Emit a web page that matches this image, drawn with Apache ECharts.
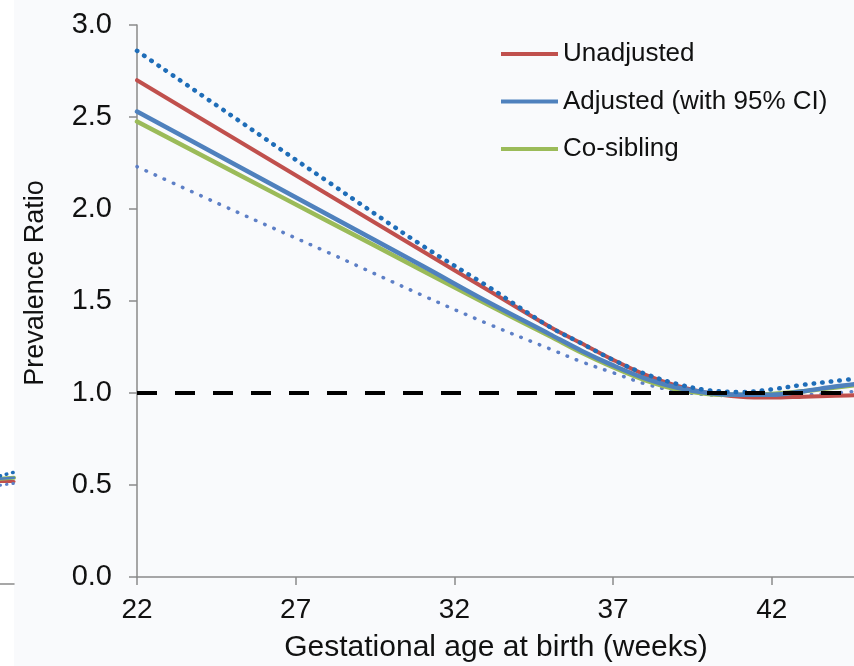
<!DOCTYPE html>
<html>
<head>
<meta charset="utf-8">
<script src="https://cdn.jsdelivr.net/npm/echarts@6/dist/echarts.min.js"></script>
<style>
  html, body { margin: 0; padding: 0; background: #f9fafc; }
  #chart { width: 854px; height: 666px; }
</style>
</head>
<body>
<div id="chart"></div>
<script>
// Gestational age (weeks) at which the curves are sampled
const weeks = [22, 25, 28, 31, 33, 35, 36, 37, 38, 39, 40, 41, 42, 43, 44, 45];

// Prevalence ratio curves
const unadjusted = [2.70, 2.39, 2.08, 1.77, 1.565, 1.36, 1.27, 1.18, 1.10, 1.04, 1.00, 0.98, 0.975, 0.98, 0.985, 0.99];
const adjusted   = [2.53, 2.25, 1.97, 1.69, 1.50, 1.32, 1.23, 1.15, 1.08, 1.03, 1.00, 0.99, 0.99, 1.01, 1.035, 1.055];
const coSibling  = [2.475, 2.205, 1.935, 1.665, 1.485, 1.31, 1.22, 1.14, 1.07, 1.02, 0.995, 0.99, 0.995, 1.01, 1.03, 1.05];
const ciUpper    = [2.86, 2.505, 2.15, 1.80, 1.585, 1.36, 1.27, 1.18, 1.105, 1.05, 1.015, 1.005, 1.02, 1.045, 1.065, 1.085];
const ciLower    = [2.23, 1.995, 1.765, 1.53, 1.38, 1.24, 1.17, 1.11, 1.05, 1.01, 0.99, 0.985, 0.985, 0.99, 1.0, 1.015];

// Reference line (ratio = 1)
const refWeeks = [22, 45];
const refValue = [1, 1];

// Right end of the neighbouring panel, visible at the left border
const sideX        = [0, 1];
const sideUnadj    = [0.55, 0.55];
const sideAdj      = [0.565, 0.57];
const sideCoSib    = [0.565, 0.57];
const sideUpper    = [0.58, 0.60];
const sideLower    = [0.53, 0.54];

const xTicks = { min: 22, max: 45, interval: 5 };
const yTicks = { min: 0, max: 3, interval: 0.5 };
const sideRange = { min: -0.44, max: 3.134 };

const FONT = "'Liberation Sans', Arial, sans-serif";
const RED = '#c0504d', BLUE = '#4f81bd', GREEN = '#9bbb59';
const CI_UP = '#1f6db8', CI_LO = '#5d7fc6';
const AXIS = '#8a8a8a';

const pairs = (xs, ys) => xs.map((x, i) => [x, ys[i]]);

function line(name, xs, ys, color, width, extra) {
  return Object.assign({
    name: name,
    type: 'line',
    data: pairs(xs, ys),
    showSymbol: false,
    smooth: 0.35,
    silent: true,
    xAxisIndex: 0,
    yAxisIndex: 0,
    lineStyle: { color: color, width: width, cap: 'round' },
    itemStyle: { color: color },
    z: 2
  }, extra || {});
}

function sideLine(xs, ys, color, width, type) {
  return {
    type: 'line',
    data: pairs(xs, ys),
    showSymbol: false,
    silent: true,
    xAxisIndex: 1,
    yAxisIndex: 1,
    lineStyle: { color: color, width: width, type: type || 'solid', cap: 'round' },
    z: 2
  };
}

const chart = echarts.init(document.getElementById('chart'), null, { renderer: 'canvas' });

chart.setOption({
  backgroundColor: '#f9fafc',
  animation: false,
  textStyle: { fontFamily: FONT },
  legend: {
    data: ['Unadjusted', 'Adjusted (with 95% CI)', 'Co-sibling'],
    orient: 'vertical',
    left: 496,
    top: 35,
    icon: 'rect',
    itemWidth: 57,
    itemHeight: 4,
    itemGap: 19.5,
    selectedMode: false,
    textStyle: { fontFamily: FONT, fontSize: 26, color: '#111', lineHeight: 28 }
  },
  grid: [
    { left: 137, right: -13, top: 25, bottom: 89, outerBoundsMode: 'none', containLabel: false },
    { left: 0, width: 14, top: 0, bottom: 0, show: true, backgroundColor: '#ffffff', borderWidth: 0,
      outerBoundsMode: 'none', containLabel: false }
  ],
  xAxis: [
    {
      type: 'value',
      gridIndex: 0,
      min: xTicks.min,
      max: xTicks.max,
      interval: xTicks.interval,
      name: 'Gestational age at birth (weeks)',
      nameLocation: 'middle',
      nameGap: 56,
      nameTextStyle: { fontFamily: FONT, fontSize: 30, color: '#111', padding: [0, 12, 0, 0] },
      axisLine: { show: true, lineStyle: { color: AXIS, width: 1.5 } },
      axisTick: { show: true, inside: false, length: 8, lineStyle: { color: AXIS, width: 1.5 } },
      axisLabel: { fontFamily: FONT, fontSize: 28, color: '#111', margin: 19, showMaxLabel: false },
      splitLine: { show: false }
    },
    {
      type: 'value',
      gridIndex: 1,
      min: 0,
      max: 1,
      axisLine: { show: true, onZero: true, lineStyle: { color: AXIS, width: 1.5 } },
      axisTick: { show: false },
      axisLabel: { show: false },
      splitLine: { show: false }
    }
  ],
  yAxis: [
    {
      type: 'value',
      gridIndex: 0,
      min: yTicks.min,
      max: yTicks.max,
      interval: yTicks.interval,
      name: 'Prevalence Ratio',
      nameLocation: 'middle',
      nameGap: 88,
      nameRotate: 90,
      nameTextStyle: { fontFamily: FONT, fontSize: 27, color: '#111', padding: [0, 0, 0, 36] },
      axisLine: { show: true, lineStyle: { color: AXIS, width: 1.5 } },
      axisTick: { show: true, inside: false, length: 8, lineStyle: { color: AXIS, width: 1.5 } },
      axisLabel: { fontFamily: FONT, fontSize: 29, color: '#111', margin: 25,
                   formatter: v => v.toFixed(1) },
      splitLine: { show: false }
    },
    {
      type: 'value',
      gridIndex: 1,
      min: sideRange.min,
      max: sideRange.max,
      axisLine: { show: false },
      axisTick: { show: false },
      axisLabel: { show: false },
      splitLine: { show: false }
    }
  ],
  series: [
    line('CI lower', weeks, ciLower, CI_LO, 3.5,
         { lineStyle: { color: CI_LO, width: 3.5, type: [0.5, 9.5], cap: 'round' }, z: 1 }),
    line('Unadjusted', weeks, unadjusted, RED, 4),
    line('Co-sibling', weeks, coSibling, GREEN, 4.5),
    line('Adjusted (with 95% CI)', weeks, adjusted, BLUE, 4.5),
    line('CI upper', weeks, ciUpper, CI_UP, 4.5,
         { lineStyle: { color: CI_UP, width: 4.5, type: [0.5, 8.2], cap: 'round' }, z: 3 }),
    line('Reference', refWeeks, refValue, '#000', 4,
         { smooth: false, lineStyle: { color: '#000', width: 4, type: [20, 18], cap: 'butt' }, z: 4 }),
    sideLine(sideX, sideUnadj, RED, 3),
    sideLine(sideX, sideCoSib, GREEN, 4),
    sideLine(sideX, sideAdj, BLUE, 2.5),
    sideLine(sideX, sideLower, CI_LO, 3, [0.5, 6]),
    sideLine(sideX, sideUpper, CI_UP, 3.5, [0.5, 6])
  ]
});
</script>
</body>
</html>
